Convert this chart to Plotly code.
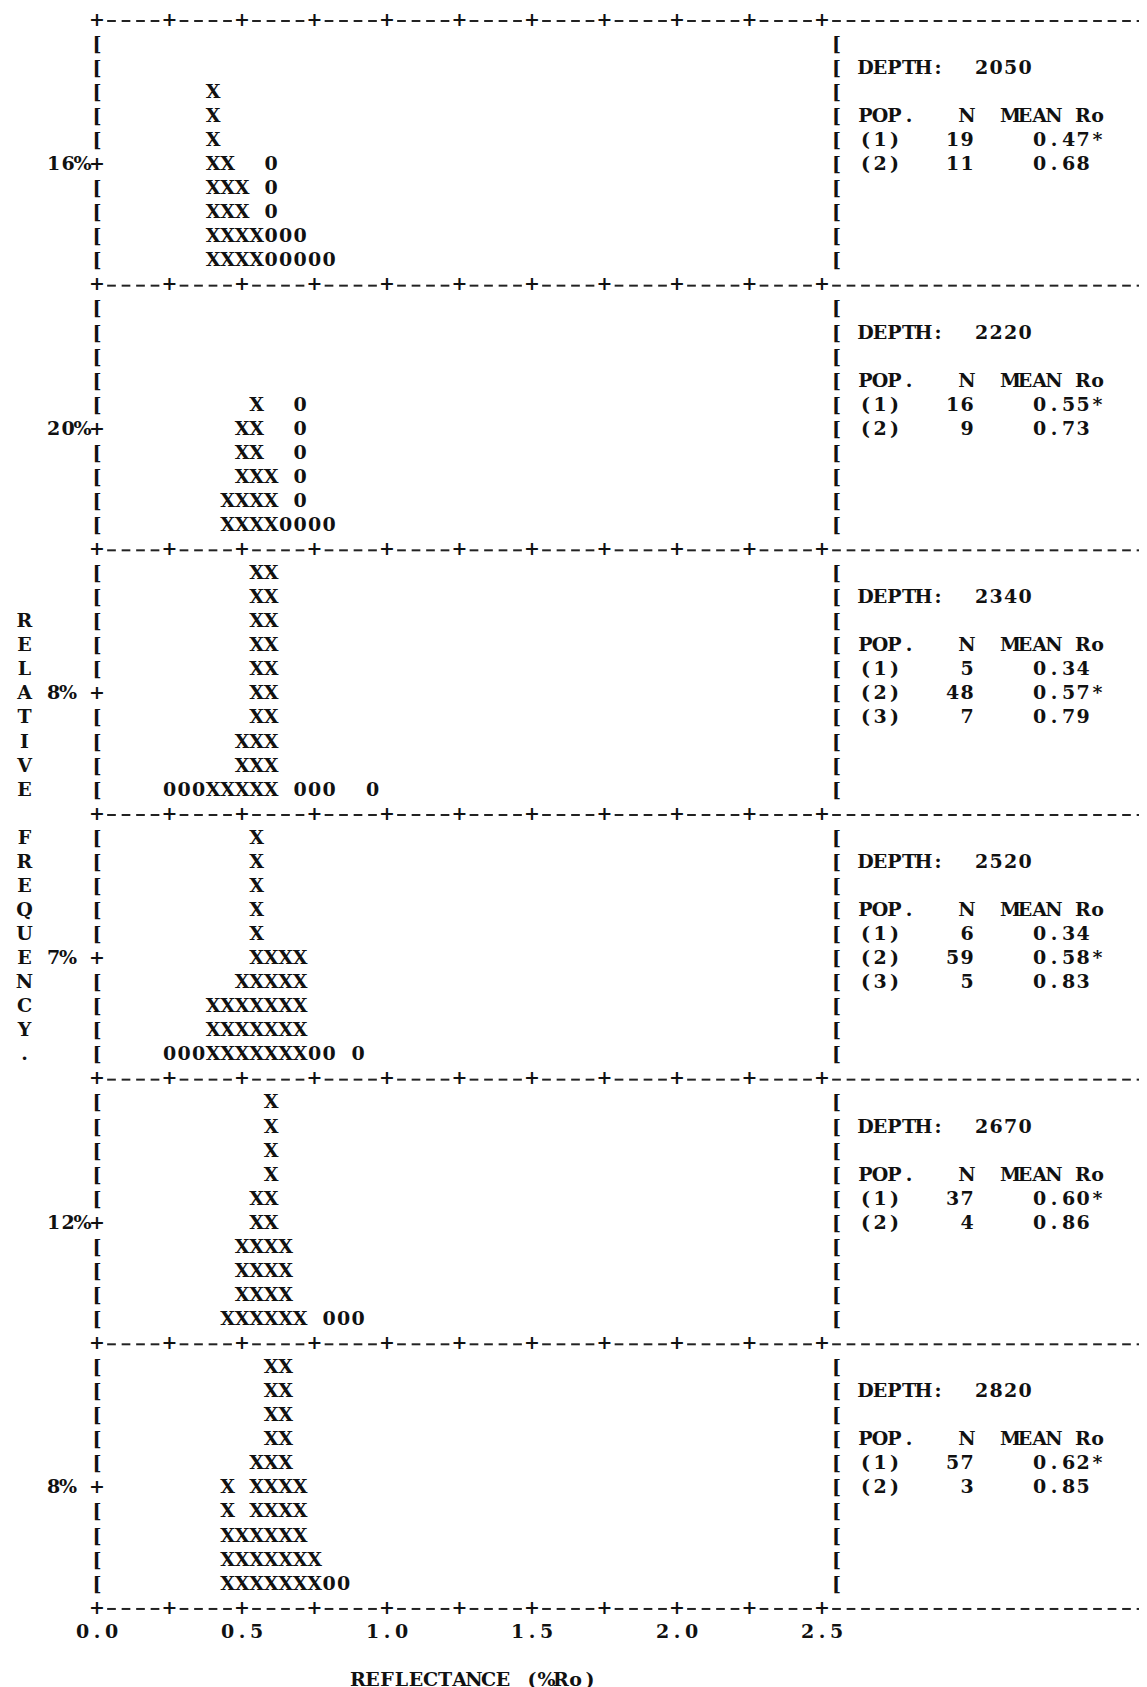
import plotly.graph_objects as go

# ---------------- data ----------------
DEPTHS = [2050, 2220, 2340, 2520, 2670, 2820]
PCT_LABELS = ["16%", "20%", "8%", "7%", "12%", "8%"]

# main population ("X") histogram: bin reflectance (%Ro) and stacked character counts
X_BINS = [
    [0.40, 0.45, 0.50, 0.55],
    [0.45, 0.50, 0.55, 0.60],
    [0.40, 0.45, 0.50, 0.55, 0.60],
    [0.40, 0.45, 0.50, 0.55, 0.60, 0.65, 0.70],
    [0.45, 0.50, 0.55, 0.60, 0.65, 0.70],
    [0.45, 0.50, 0.55, 0.60, 0.65, 0.70, 0.75],
]
X_COUNTS = [
    [8, 5, 4, 2],
    [2, 5, 6, 3],
    [1, 1, 3, 10, 10],
    [3, 3, 4, 10, 5, 5, 5],
    [1, 4, 6, 10, 4, 1],
    [5, 3, 6, 10, 10, 5, 2],
]
# other populations ("0") histogram
O_BINS = [
    [0.60, 0.65, 0.70, 0.75, 0.80],
    [0.65, 0.70, 0.75, 0.80],
    [0.25, 0.30, 0.35, 0.70, 0.75, 0.80, 0.95],
    [0.25, 0.30, 0.35, 0.75, 0.80, 0.90],
    [0.80, 0.85, 0.90],
    [0.80, 0.85],
]
O_COUNTS = [
    [5, 2, 2, 1, 1],
    [1, 6, 1, 1],
    [1, 1, 1, 1, 1, 1, 1],
    [1, 1, 1, 1, 1, 1],
    [1, 1, 1],
    [1, 1],
]
POP_N = [[19, 11], [16, 9], [5, 48, 7], [6, 59, 5], [37, 4], [57, 3]]
POP_MEAN = [[0.47, 0.68], [0.55, 0.73], [0.34, 0.57, 0.79], [0.34, 0.58, 0.83], [0.60, 0.86], [0.62, 0.85]]
MAIN_POP = [0, 0, 1, 1, 0, 0]

X_TICKS = [0.0, 0.5, 1.0, 1.5, 2.0, 2.5]
X_TITLE = "REFLECTANCE (%Ro)"
Y_TITLE = "RELATIVE FREQUENCY."

# ---------------- typewriter grid layout ----------------
CELL = 0.05          # reflectance per typed column
ROWS = 10            # rows per panel
PLOT_COLS = 50       # columns of the histogram area (0 .. 2.5 %Ro)
LAST_COL = 73
INFO_COL = 51

def line_of(p, row):
    return p * (ROWS + 1) + (ROWS + 1 - row)

layers = {"text": ([], [], []), "faint": ([], [], [])}
dash_x, dash_y = [], []

def put(line, col, s, layer="text"):
    xs, ys, ts = layers[layer]
    for i, ch in enumerate(s):
        if ch != " ":
            xs.append((col + i) * CELL)
            ys.append(line)
            ts.append(ch)

npan = len(DEPTHS)
HALF_DASH = 0.30 * CELL
# borders: "+----+----..." typed lines
for p in range(npan + 1):
    L = p * (ROWS + 1)
    for c in range(0, LAST_COL + 1):
        if c % 5 == 0 and c <= PLOT_COLS:
            put(L, c, "+")
        else:
            dash_x += [c * CELL - HALF_DASH, c * CELL + HALF_DASH, None]
            dash_y += [L, L, None]

for p in range(npan):
    for row in range(1, ROWS + 1):
        L = line_of(p, row)
        put(L, 0, "+" if row == 5 else "[")
        put(L, INFO_COL, "[")
        if p == 0:
            put(L, LAST_COL - 0.9, "]", layer="faint")
    put(line_of(p, 5), -3, PCT_LABELS[p])
    put(line_of(p, 9), 53, "DEPTH:")
    put(line_of(p, 9), 61, str(DEPTHS[p]))
    put(line_of(p, 7), 53, "POP.   N  MEAN Ro")
    for k, (n, m) in enumerate(zip(POP_N[p], POP_MEAN[p])):
        L = line_of(p, 6 - k)
        put(L, 53, f"({k + 1})")
        put(L, 61 - len(str(n)), str(n))
        put(L, 65, f"{m:.2f}" + ("*" if k == MAIN_POP[p] else ""))

# axis tick labels and titles
bottom = npan * (ROWS + 1)
for t in X_TICKS:
    put(bottom + 1, round(t / CELL) - 1, f"{t:.1f}")
put(bottom + 3, 18, X_TITLE)
for i, ch in enumerate(Y_TITLE):
    put(2 * (ROWS + 1) + 3 + i, -5, ch)

# histogram characters
hx, hy, ht = [], [], []
for p in range(npan):
    for b, n in zip(X_BINS[p], X_COUNTS[p]):
        for k in range(1, n + 1):
            hx.append(b); hy.append(line_of(p, k)); ht.append("X")
    for b, n in zip(O_BINS[p], O_COUNTS[p]):
        for k in range(1, n + 1):
            hx.append(b); hy.append(line_of(p, k)); ht.append("0")

FAM = "DejaVu Serif, Liberation Serif, serif"
INK = "#111111"
FONT = dict(family=FAM, size=19, color=INK, weight="bold")

fig = go.Figure()
fig.add_trace(go.Scatter(x=dash_x, y=dash_y, mode="lines",
                         line=dict(color="#222222", width=2.0), hoverinfo="skip"))
xs, ys, ts = layers["text"]
fig.add_trace(go.Scatter(x=xs, y=ys, text=ts, mode="text", textfont=FONT,
                         textposition="middle center", hoverinfo="skip"))
xs, ys, ts = layers["faint"]
fig.add_trace(go.Scatter(x=xs, y=ys, text=ts, mode="text",
                         textfont=dict(family=FAM, size=19, color="#8a8a8a"),
                         textposition="middle center", hoverinfo="skip"))
fig.add_trace(go.Scatter(x=hx, y=hy, text=ht, mode="text", textfont=FONT,
                         textposition="middle center", hoverinfo="skip"))

W, H = 1147, 1687
X0_PX, COL_PX = 89.0, 14.5
Y0_PX, LINE_PX = 13.0, 24.06
fig.update_layout(
    width=W, height=H, margin=dict(l=0, r=0, t=0, b=0),
    paper_bgcolor="white", plot_bgcolor="white", showlegend=False,
    xaxis=dict(visible=False, range=[-X0_PX / COL_PX * CELL, (W - X0_PX) / COL_PX * CELL], fixedrange=True),
    yaxis=dict(visible=False, range=[(H - Y0_PX) / LINE_PX, -Y0_PX / LINE_PX], fixedrange=True),
)
fig.write_html("out.html")
